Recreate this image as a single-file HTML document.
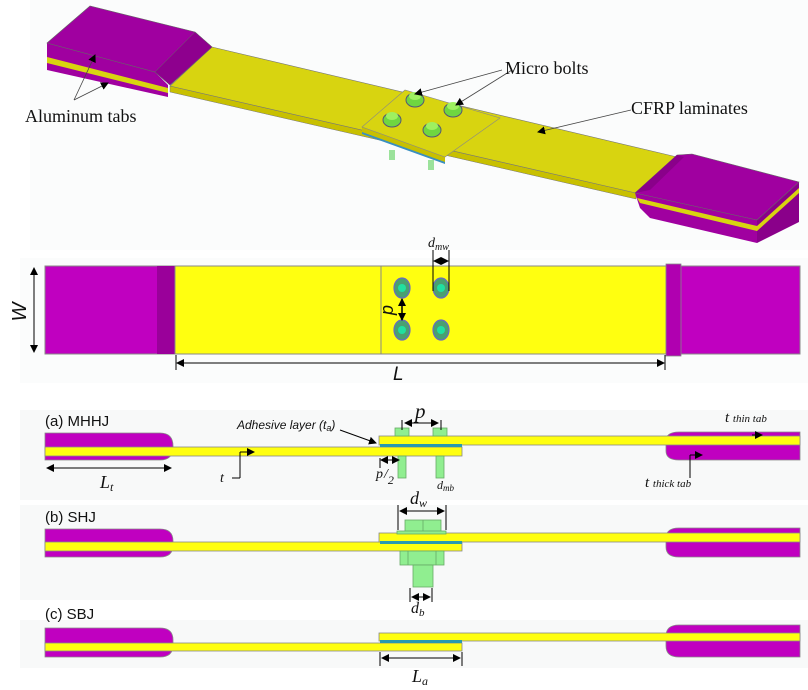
<!DOCTYPE html>
<html><head><meta charset="utf-8"><style>
html,body{margin:0;padding:0;background:#fff;}
svg{display:block;}
text{font-family:"Liberation Sans",sans-serif;fill:#111;}
.s{font-family:"Liberation Serif",serif;}
</style></head><body>
<svg width="808" height="690" viewBox="0 0 808 690" xmlns="http://www.w3.org/2000/svg">
<defs>
<marker id="a" markerWidth="8" markerHeight="8" refX="7" refY="4" orient="auto" markerUnits="userSpaceOnUse"><path d="M0,0 L8,4 L0,8 z" fill="#000"/></marker>
<marker id="b" markerWidth="8" markerHeight="8" refX="1" refY="4" orient="auto" markerUnits="userSpaceOnUse"><path d="M8,0 L0,4 L8,8 z" fill="#000"/></marker>
</defs>
<rect x="30" y="0" width="778" height="250" fill="#fbfcfc"/>
<rect x="20" y="258" width="788" height="125" fill="#fbfcfc"/>
<rect x="20" y="410" width="788" height="90" fill="#f8f9f9"/>
<rect x="20" y="505" width="788" height="95" fill="#f8f9f9"/>
<rect x="20" y="620" width="788" height="48" fill="#f8f9f9"/>

<!-- 3D view -->
<polygon points="170,86 636,193 636,199 170,92" fill="#c8c000" stroke="#777" stroke-width="0.5"/>
<polygon points="212,47 677,157 636,193 170,86" fill="#d8d410" stroke="#777" stroke-width="0.6"/>
<!-- left tab -->
<polygon points="47,43 155,72 168,85 168,97 47,70" fill="#a000a0"/>
<polygon points="47,57 168,88 168,93 47,63" fill="#d8d410"/>
<line x1="47" y1="43" x2="155" y2="72" stroke="#666" stroke-width="0.6"/>
<polygon points="47,43 90,6 195,32 212,47 170,85 155,72" fill="#a000a0" stroke="#666" stroke-width="0.6"/>
<polygon points="195,32 212,47 170,85 155,72" fill="#8e008e" stroke="#666" stroke-width="0.5"/>
<!-- right tab -->
<polygon points="635,193 757,220 757,243 650,218 640,208" fill="#a000a0"/>
<polygon points="637,198 757,226 757,231 640,203" fill="#d8d410"/>
<polygon points="757,220 799,182 799,222 757,243" fill="#8a008a"/>
<polygon points="757,226 799,188 799,193 757,231" fill="#d8d410"/>
<polygon points="677,155 692,154 799,182 757,220 635,193" fill="#a000a0" stroke="#666" stroke-width="0.6"/>
<polygon points="677,155 684,157 650,190 635,193" fill="#8a008a"/>
<!-- plate -->
<polygon points="362,127 445,157 445,163 362,133" fill="#c8c000"/>
<polygon points="362,132 445,162 445,164 362,134" fill="#3a8fc0"/>
<polygon points="362,127 405,90 500,118 445,157" fill="#d8d410" stroke="#888" stroke-width="0.6"/>
<rect x="389" y="150" width="6" height="10" fill="#9be29b"/>
<rect x="428" y="160" width="6" height="10" fill="#9be29b"/>
<g fill="#6fd640" stroke="#557" stroke-width="1">
<ellipse cx="415" cy="100" rx="9" ry="7"/><ellipse cx="453" cy="110" rx="9" ry="7"/>
<ellipse cx="392" cy="120" rx="9" ry="7"/><ellipse cx="432" cy="130" rx="9" ry="7"/>
</g>
<g fill="#9ef060"><ellipse cx="415" cy="96" rx="6" ry="4"/><ellipse cx="453" cy="106" rx="6" ry="4"/><ellipse cx="392" cy="116" rx="6" ry="4"/><ellipse cx="432" cy="126" rx="6" ry="4"/></g>
<g stroke="#444" stroke-width="0.8" fill="none">
<line x1="502" y1="70" x2="415" y2="94" marker-end="url(#a)"/>
<line x1="512" y1="70" x2="456" y2="105" marker-end="url(#a)"/>
<line x1="74" y1="100" x2="95" y2="55" marker-end="url(#a)"/>
<line x1="74" y1="100" x2="108" y2="83" marker-end="url(#a)"/>
<line x1="631" y1="110" x2="538" y2="132" marker-end="url(#a)"/>
</g>
<text class="s" x="505" y="74" font-size="18">Micro bolts</text>
<text class="s" x="25" y="122" font-size="18">Aluminum tabs</text>
<text class="s" x="631" y="114" font-size="18">CFRP laminates</text>

<!-- Top view -->
<rect x="45" y="266" width="755" height="88" fill="#c000c0" stroke="#888" stroke-width="1"/>
<rect x="157" y="266" width="18" height="88" fill="#9a009a"/>
<rect x="175" y="266" width="491" height="88" fill="#ffff10" stroke="#888" stroke-width="1"/>
<rect x="666" y="264" width="15" height="92" fill="#b000b0" stroke="#888" stroke-width="0.8"/>
<line x1="381" y1="266" x2="381" y2="354" stroke="#888"/>
<g fill="#4aa070" stroke="#6a6ac0" stroke-width="1.2">
<ellipse cx="402" cy="288" rx="8" ry="10"/><ellipse cx="441" cy="288" rx="8" ry="10"/>
<ellipse cx="402" cy="330" rx="8" ry="10"/><ellipse cx="441" cy="330" rx="8" ry="10"/>
</g>
<g fill="#20e0a0"><circle cx="402" cy="288" r="4"/><circle cx="441" cy="288" r="4"/><circle cx="402" cy="330" r="4"/><circle cx="441" cy="330" r="4"/></g>
<g stroke="#000" stroke-width="1" fill="none">
<line x1="34" y1="268" x2="34" y2="352" marker-start="url(#b)" marker-end="url(#a)"/>
<line x1="177" y1="363" x2="664" y2="363" marker-start="url(#b)" marker-end="url(#a)"/>
<line x1="176" y1="355" x2="176" y2="370"/><line x1="665" y1="355" x2="665" y2="370"/>
<line x1="402" y1="299" x2="402" y2="320" stroke-width="1.5" marker-start="url(#b)" marker-end="url(#a)"/>
<line x1="433" y1="250" x2="433" y2="291"/><line x1="449" y1="250" x2="449" y2="291"/>
<line x1="434" y1="261" x2="448" y2="261" marker-start="url(#b)" marker-end="url(#a)"/>
</g>
<text x="0" y="0" font-size="20" font-style="italic" transform="translate(26,312) rotate(-90)" text-anchor="middle">W</text>
<text x="0" y="0" font-size="18" font-style="italic" transform="translate(393,310) rotate(-90)" text-anchor="middle">p</text>
<text x="393" y="380" font-size="19" font-style="italic">L</text>
<text class="s" x="428" y="247" font-size="14" font-style="italic">d<tspan font-size="10" dy="3">mw</tspan></text>

<!-- (a) MHHJ -->
<g stroke="#888" stroke-width="0.8">
<path d="M45,433 H160 Q173,433 173,446 L173,447 Q173,460 160,460 H45 Z" fill="#c000c0"/>
<path d="M800,432 H679 Q666,432 666,441 L666,451 Q666,460 679,460 H800 Z" fill="#c000c0"/>
<rect x="45" y="447" width="417" height="9" fill="#ffff10"/>
<rect x="379" y="436" width="421" height="9" fill="#ffff10"/>
</g>
<rect x="380" y="444" width="82" height="3" fill="#2a9ab0"/>
<g fill="#90ee90" stroke="#6a6" stroke-width="0.8">
<rect x="395" y="428" width="14" height="8"/><rect x="433" y="428" width="14" height="8"/>
<rect x="398" y="456" width="8" height="22"/><rect x="436" y="456" width="8" height="22"/>
</g>
<g stroke="#000" stroke-width="1" fill="none">
<line x1="340" y1="430" x2="376" y2="443" marker-end="url(#a)"/>
<line x1="402" y1="420" x2="402" y2="430"/><line x1="441" y1="420" x2="441" y2="430"/>
<line x1="405" y1="423" x2="438" y2="423" marker-start="url(#b)" marker-end="url(#a)"/>
<line x1="47" y1="468" x2="171" y2="468" marker-start="url(#b)" marker-end="url(#a)"/>
<line x1="232" y1="478" x2="240" y2="478"/><line x1="240" y1="478" x2="240" y2="452"/>
<line x1="240" y1="452" x2="254" y2="452" marker-end="url(#a)"/>
<line x1="381" y1="460" x2="399" y2="460" marker-start="url(#b)" marker-end="url(#a)"/>
<line x1="380" y1="458" x2="380" y2="468"/>
<line x1="752" y1="435" x2="762" y2="435" marker-end="url(#a)"/>
<line x1="690" y1="478" x2="690" y2="455"/><line x1="690" y1="455" x2="702" y2="455" marker-end="url(#a)"/>
</g>
<text x="45" y="426" font-size="15">(a) MHHJ</text>
<text x="237" y="429" font-size="12" font-style="italic">Adhesive layer (t<tspan font-size="9" dy="2">a</tspan><tspan dy="-2">)</tspan></text>
<text class="s" x="415" y="418" font-size="21" font-style="italic">p</text>
<text class="s" x="100" y="488" font-size="18" font-style="italic">L<tspan font-size="12" dy="3">t</tspan></text>
<text class="s" x="220" y="482" font-size="14" font-style="italic">t</text>
<text class="s" x="376" y="478" font-size="14" font-style="italic">p<tspan dx="1">/</tspan><tspan font-size="12" dy="6">2</tspan></text>
<text class="s" x="437" y="489" font-size="12" font-style="italic">d<tspan font-size="9" dy="2">mb</tspan></text>
<text class="s" x="725" y="422" font-size="15" font-style="italic">t <tspan font-size="11">thin tab</tspan></text>
<text class="s" x="645" y="487" font-size="15" font-style="italic">t <tspan font-size="11">thick tab</tspan></text>

<!-- (b) SHJ -->
<g stroke="#888" stroke-width="0.8">
<path d="M45,529 H160 Q173,529 173,541 L173,545 Q173,557 160,557 H45 Z" fill="#c000c0"/>
<path d="M800,528 H679 Q666,528 666,538 L666,547 Q666,557 679,557 H800 Z" fill="#c000c0"/>
<rect x="45" y="542" width="417" height="9" fill="#ffff10"/>
<rect x="379" y="533" width="421" height="9" fill="#ffff10"/>
</g>
<rect x="380" y="541" width="82" height="3" fill="#2a9ab0"/>
<g fill="#90ee90" stroke="#6a6" stroke-width="0.8">
<rect x="405" y="520" width="36" height="12"/><line x1="423" y1="520" x2="423" y2="532"/>
<rect x="397" y="531" width="49" height="3"/>
<rect x="400" y="551" width="44" height="14"/><line x1="408" y1="551" x2="408" y2="565"/><line x1="436" y1="551" x2="436" y2="565"/>
<rect x="413" y="565" width="20" height="22"/>
</g>
<g stroke="#000" stroke-width="1" fill="none">
<line x1="398" y1="505" x2="398" y2="530"/><line x1="446" y1="505" x2="446" y2="530"/>
<line x1="400" y1="511" x2="444" y2="511" marker-start="url(#b)" marker-end="url(#a)"/>
<line x1="410" y1="588" x2="410" y2="602"/><line x1="432" y1="588" x2="432" y2="602"/>
<line x1="412" y1="597" x2="430" y2="597" marker-start="url(#b)" marker-end="url(#a)"/>
</g>
<text x="45" y="522" font-size="15">(b) SHJ</text>
<text class="s" x="410" y="504" font-size="18" font-style="italic">d<tspan font-size="12" dy="3">w</tspan></text>
<text class="s" x="411" y="613" font-size="16" font-style="italic">d<tspan font-size="11" dy="3">b</tspan></text>

<!-- (c) SBJ -->
<g stroke="#888" stroke-width="0.8">
<path d="M45,628 H160 Q173,628 173,640 L173,645 Q173,657 160,657 H45 Z" fill="#c000c0"/>
<path d="M800,625 H679 Q666,625 666,636 L666,646 Q666,657 679,657 H800 Z" fill="#c000c0"/>
<rect x="45" y="643" width="417" height="8" fill="#ffff10"/>
<rect x="379" y="633" width="421" height="8" fill="#ffff10"/>
</g>
<rect x="380" y="640" width="82" height="3" fill="#2a9ab0"/>
<g stroke="#000" stroke-width="1" fill="none">
<line x1="380" y1="652" x2="380" y2="666"/><line x1="462" y1="652" x2="462" y2="666"/>
<line x1="382" y1="658" x2="460" y2="658" marker-start="url(#b)" marker-end="url(#a)"/>
</g>
<text x="45" y="619" font-size="15">(c) SBJ</text>
<text class="s" x="412" y="682" font-size="18" font-style="italic">L<tspan font-size="12" dy="3">a</tspan></text>
</svg>
</body></html>
